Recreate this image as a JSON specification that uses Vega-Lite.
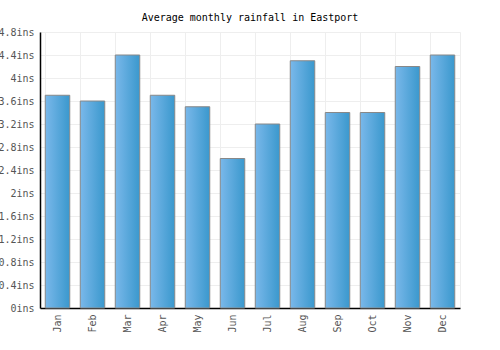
{
  "$schema": "https://vega.github.io/schema/vega-lite/v6.json",
  "autosize": "none",
  "width": 420,
  "height": 276,
  "padding": {"left": 40, "top": 32, "right": 40, "bottom": 42},
  "background": "white",
  "title": {"text": "Average monthly rainfall in Eastport", "font": "DejaVu Sans Mono", "fontSize": 10, "fontWeight": "normal", "color": "#000000", "anchor": "middle", "offset": 4},
  "config": {
    "view": {"stroke": "#eeeeee"},
    "axis": {"labelFont": "DejaVu Sans Mono", "labelFontSize": 10, "labelColor": "#555555", "gridColor": "#eeeeee", "domainColor": "#000000", "ticks": false, "title": null}
  },
  "data": {"values": [
    {"month": "Jan", "rain": 3.7},
    {"month": "Feb", "rain": 3.6},
    {"month": "Mar", "rain": 4.4},
    {"month": "Apr", "rain": 3.7},
    {"month": "May", "rain": 3.5},
    {"month": "Jun", "rain": 2.6},
    {"month": "Jul", "rain": 3.2},
    {"month": "Aug", "rain": 4.3},
    {"month": "Sep", "rain": 3.4},
    {"month": "Oct", "rain": 3.4},
    {"month": "Nov", "rain": 4.2},
    {"month": "Dec", "rain": 4.4}
  ]},
  "mark": {
    "type": "bar",
    "stroke": "#888888",
    "strokeWidth": 1,
    "color": {"gradient": "linear", "x1": 0, "x2": 1, "y1": 0, "y2": 0, "stops": [{"offset": 0, "color": "#7ab8ea"}, {"offset": 1, "color": "#3a98cd"}]}
  },
  "encoding": {
    "x": {"field": "month", "type": "nominal", "sort": null,
      "scale": {"paddingInner": 0.3, "paddingOuter": 0.15},
      "axis": {"labelAngle": -90, "grid": true, "bandPosition": 0, "labelPadding": 6, "domainWidth": 1.5}},
    "y": {"field": "rain", "type": "quantitative",
      "scale": {"domain": [0, 4.8], "nice": false},
      "axis": {"values": [0, 0.4, 0.8, 1.2, 1.6, 2, 2.4, 2.8, 3.2, 3.6, 4, 4.4, 4.8], "labelExpr": "format(datum.value, '.1~f') + 'ins'", "labelPadding": 6, "domainWidth": 1.5}}
  }
}
